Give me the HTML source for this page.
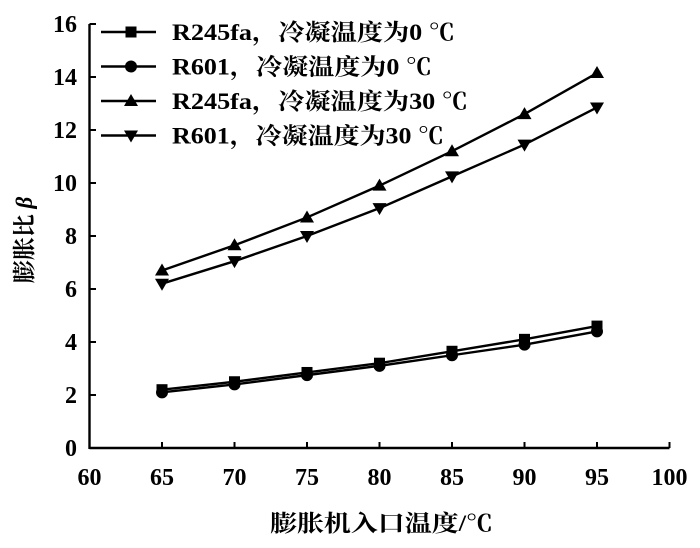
<!DOCTYPE html>
<html><head><meta charset="utf-8"><style>
body{margin:0;background:#fff}
svg text{font-family:"Liberation Serif","Noto Serif CJK SC",serif;fill:#000;font-weight:bold}
</style></head><body>
<svg id="c" width="700" height="543" viewBox="0 0 700 543"></svg>
<script>
const xValues=[65,70,75,80,85,90,95];
const r245fa0=[2.2,2.5,2.85,3.2,3.65,4.1,4.6];
const r6010=[2.1,2.4,2.75,3.1,3.5,3.9,4.4];
const r245fa30=[6.7,7.65,8.7,9.9,11.2,12.6,14.15];
const r60130=[6.2,7.05,8.0,9.05,10.25,11.45,12.85];
const xTicks=[60,65,70,75,80,85,90,95,100];
const yTicks=[0,2,4,6,8,10,12,14,16];
const seriesNames=["R245fa，冷凝温度为0 ℃","R601，冷凝温度为0 ℃","R245fa，冷凝温度为30 ℃","R601，冷凝温度为30 ℃"];
const legendWidths=[283,260,296,272];
const NS="http://www.w3.org/2000/svg";
const svg=document.getElementById('c');
const X=v=>89.5+(v-60)*14.5;
const Y=v=>448-v*26.5;
function mk(t,a,p){const e=document.createElementNS(NS,t);for(const k in a)e.setAttribute(k,a[k]);(p||svg).appendChild(e);return e;}
let ax=mk('line',{x1:89.5,y1:Y(0),x2:X(100),y2:Y(0),stroke:'#000','stroke-width':2.4});


let ay=mk('line',{x1:89.5,y1:Y(0)+1,x2:89.5,y2:Y(16),stroke:'#000','stroke-width':2.4});


xTicks.forEach(v=>{
  if(v>60){const tk=mk('line',{x1:X(v),y1:Y(0),x2:X(v),y2:Y(0)-6,stroke:'#000','stroke-width':2});
  
  }
  const t=mk('text',{x:X(v),y:485,'text-anchor':'middle','font-size':24});
  t.textContent=v;
  
  
});
yTicks.forEach(v=>{
  const tk=mk('line',{x1:89.5,y1:Y(v),x2:96,y2:Y(v),stroke:'#000','stroke-width':2});
  
  
  const t=mk('text',{x:77,y:Y(v)+8,'text-anchor':'end','font-size':24});
  t.textContent=v;
  
  
});
let xt=mk('text',{x:270,y:531,'font-size':23,textLength:223,lengthAdjust:'spacingAndGlyphs'});
xt.textContent='膨胀机入口温度/℃';


let yt=mk('text',{x:0,y:0,'text-anchor':'middle','font-size':23,transform:'translate(32,240) rotate(-90)'});
yt.innerHTML='膨胀比 <tspan font-style="italic">β</tspan>';


function marker(type,x,y,g){
  if(type===0)return mk('rect',{x:x-5.5,y:y-5.5,width:11,height:11,fill:'#000'},g);
  if(type===1)return mk('circle',{cx:x,cy:y,r:6,fill:'#000'},g);
  if(type===2)return mk('polygon',{points:`${x},${y-7} ${x+7},${y+5} ${x-7},${y+5}`,fill:'#000'},g);
  return mk('polygon',{points:`${x},${y+7} ${x+7},${y-5} ${x-7},${y-5}`,fill:'#000'},g);
}
[r245fa0,r6010,r245fa30,r60130].forEach((s,i)=>{
  const g=mk('g',{});
  
  
  mk('polyline',{points:s.map((v,j)=>X(xValues[j])+','+Y(v)).join(' '),fill:'none',stroke:'#000','stroke-width':2.4},g);
  s.forEach((v,j)=>{const m=marker(i,X(xValues[j]),Y(v),g);
    
    });
  const ly=32+i*34.5;
  const lg=mk('g',{});
  
  
  mk('line',{x1:101,y1:ly,x2:156,y2:ly,stroke:'#000','stroke-width':2.4},lg);
  marker(i,131,ly,lg);
  const t=mk('text',{x:172,y:ly+8,'font-size':23,textLength:legendWidths[i],lengthAdjust:'spacingAndGlyphs'},lg);
  t.textContent=seriesNames[i];
});
</script>
</body></html>
